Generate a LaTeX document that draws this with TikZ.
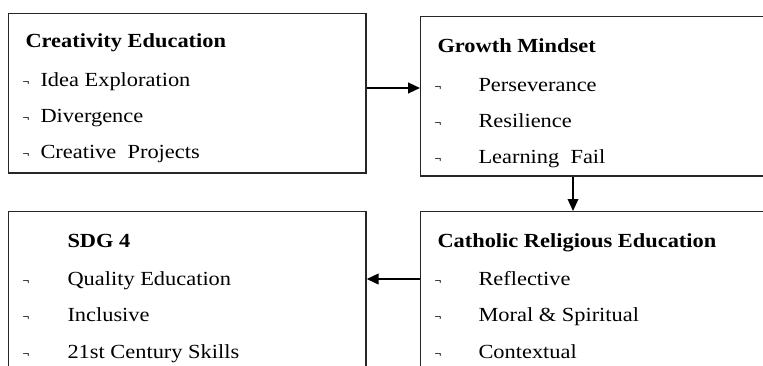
\documentclass[tikz,border=0pt]{standalone}
\usepackage{fontspec}
\setmainfont{Liberation Serif}[FakeStretch=1.12]
\usetikzlibrary{arrows.meta}

\tikzset{every picture/.style={line width=0.75pt}}
\tikzset{
  box/.style={draw={rgb, 255:red, 38; green, 38; blue, 38 }, line width=1pt, inner sep=0pt, anchor=north west, minimum width=268pt, minimum height=119.5pt},
  link/.style={line width=1.6pt, -{Triangle[length=9pt,width=8pt]}},
  head/.style={anchor=base west, inner sep=0pt, font=\fontsize{15}{18}\selectfont\bfseries},
  entry/.style={anchor=base west, inner sep=0pt, font=\fontsize{15}{18}\selectfont},
  dot/.style={anchor=base west, inner sep=0pt, font=\fontsize{8}{9}\selectfont\bfseries, yshift=0.6pt}
}

\begin{document}
\begin{tikzpicture}[x=0.75pt,y=0.75pt,yscale=-1,xscale=1]
\useasboundingbox (0,0) rectangle (763,365);
\clip (0,0) rectangle (763,365);

%Boxes
\node [box] (creat) at (8,13) {};
\node [box] (growth) at (420,16) {};
\node [box] (sdg) at (8,211) {};
\node [box] (church) at (420,211) {};

%Straight Lines
\draw [link] (creat.east |- 0,88) -- (growth.west |- 0,88) ;
%Straight Lines
\draw [link, line width=1pt] (growth.south -| 573,0) -- (church.north -| 573,0) ;
%Straight Lines
\draw [link] (church.west |- 0,279) -- (sdg.east |- 0,279) ;

% Text Node
\node [head] (creat-t) at (25,47) {Creativity Education};
\node [dot] (creat-m1) at (22,86) {¬};
\node [entry] (creat-1) at (40,86) {Idea Exploration};
\node [dot] (creat-m2) at (22,122) {¬};
\node [entry] (creat-2) at (40,122) {Divergence};
\node [dot] (creat-m3) at (22,158) {¬};
\node [entry] (creat-3) at (40,158) {Creative~ Projects};

% Text Node
\node [head] (growth-t) at (437,52) {Growth Mindset};
\node [dot] (growth-m1) at (434,91) {¬};
\node [entry] (growth-1) at (478,91) {Perseverance};
\node [dot] (growth-m2) at (434,127) {¬};
\node [entry] (growth-2) at (478,127) {Resilience};
\node [dot] (growth-m3) at (434,163) {¬};
\node [entry] (growth-3) at (478,163) {Learning~ Fail};

% Text Node
\node [head] (sdg-t) at (67,247) {SDG 4};
\node [dot] (sdg-m1) at (22,285) {¬};
\node [entry] (sdg-1) at (67,285) {Quality Education};
\node [dot] (sdg-m2) at (22,321) {¬};
\node [entry] (sdg-2) at (67,321) {Inclusive};
\node [dot] (sdg-m3) at (22,358) {¬};
\node [entry] (sdg-3) at (67,358) {21st Century Skills};

% Text Node
\node [head] (church-t) at (437,247) {Catholic Religious Education};
\node [dot] (church-m1) at (434,285) {¬};
\node [entry] (church-1) at (478,285) {Reflective};
\node [dot] (church-m2) at (434,321) {¬};
\node [entry] (church-2) at (478,321) {Moral \& Spiritual};
\node [dot] (church-m3) at (434,358) {¬};
\node [entry] (church-3) at (478,358) {Contextual};

\end{tikzpicture}
\end{document}
